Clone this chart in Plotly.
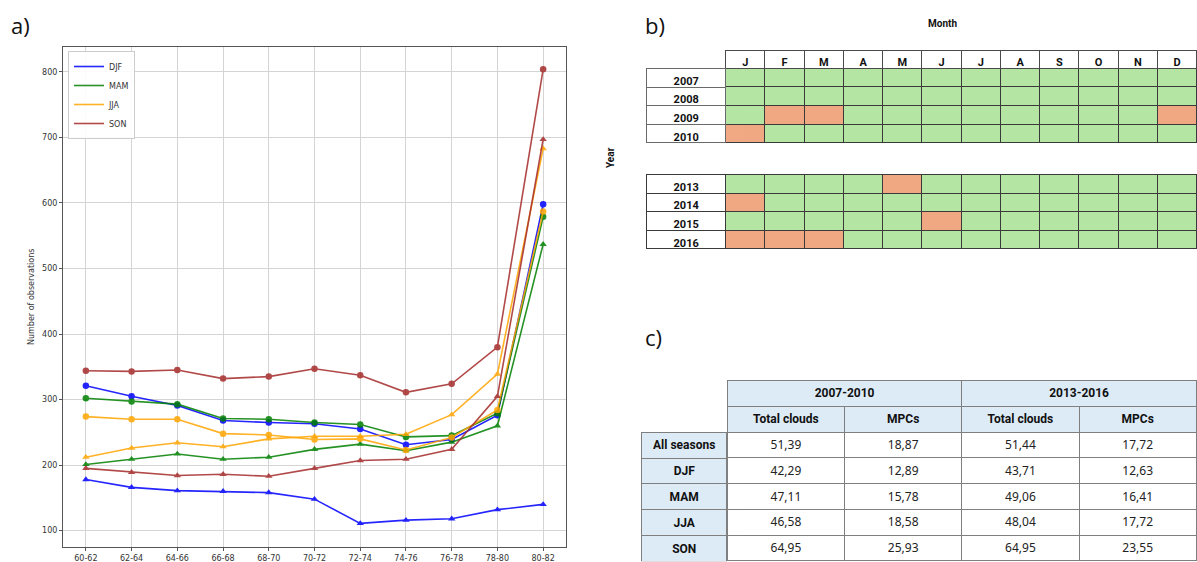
import plotly.graph_objects as go

W, H = 1197, 562

# ---------------- panel a data ----------------
periods = ['60-62', '62-64', '64-66', '66-68', '68-70', '70-72', '72-74', '74-76', '76-78', '78-80', '80-82']
djf_circle = [321, 305, 291, 268, 265, 263, 255, 231, 239, 276, 598]
djf_tri = [178, 166, 161, 160, 158, 148, 111, 116, 118, 132, 140]
mam_circle = [302, 297, 293, 271, 270, 265, 262, 243, 245, 279, 579]
mam_tri = [201, 209, 217, 209, 212, 224, 232, 222, 235, 260, 537]
jja_circle = [274, 270, 270, 248, 246, 239, 240, 223, 242, 284, 587]
jja_tri = [212, 226, 234, 228, 240, 244, 244, 247, 277, 339, 683]
son_circle = [344, 343, 345, 332, 335, 347, 337, 311, 324, 380, 804]
son_tri = [195, 189, 184, 186, 183, 195, 207, 209, 224, 305, 697]
seasons = ['DJF', 'MAM', 'JJA', 'SON']
season_colors = ['#0000FF', '#008000', '#FFA500', '#A52A2A']

# ---------------- panel b data ----------------
months = ['J', 'F', 'M', 'A', 'M', 'J', 'J', 'A', 'S', 'O', 'N', 'D']
years_1 = ['2007', '2008', '2009', '2010']
years_2 = ['2013', '2014', '2015', '2016']
missing_1 = [
    [0, 0, 0, 0, 0, 0, 0, 0, 0, 0, 0, 0],
    [0, 0, 0, 0, 0, 0, 0, 0, 0, 0, 0, 0],
    [0, 1, 1, 0, 0, 0, 0, 0, 0, 0, 0, 1],
    [1, 0, 0, 0, 0, 0, 0, 0, 0, 0, 0, 0],
]
missing_2 = [
    [0, 0, 0, 0, 1, 0, 0, 0, 0, 0, 0, 0],
    [1, 0, 0, 0, 0, 0, 0, 0, 0, 0, 0, 0],
    [0, 0, 0, 0, 0, 1, 0, 0, 0, 0, 0, 0],
    [1, 1, 1, 0, 0, 0, 0, 0, 0, 0, 0, 0],
]

# ---------------- panel c data ----------------
period_labels = ['2007-2010', '2013-2016']
sub_labels = ['Total clouds', 'MPCs', 'Total clouds', 'MPCs']
row_labels = ['All seasons', 'DJF', 'MAM', 'JJA', 'SON']
total_0710 = [51.39, 42.29, 47.11, 46.58, 64.95]
mpc_0710 = [18.87, 12.89, 15.78, 18.58, 25.93]
total_1316 = [51.44, 43.71, 49.06, 48.04, 64.95]
mpc_1316 = [17.72, 12.63, 16.41, 17.72, 23.55]

GREEN = '#B4E5A2'
ORANGE = '#F0A882'
LBLUE = '#DDEBF7'


def px_x(p):
    return p / W


def px_y(p):
    return 1 - p / H


def nb(s):
    # non-breaking spaces keep plotly tables from growing the row height
    return s.replace(' ', '\u00a0')


fig = go.Figure()

# ---- line chart ----
series = [
    (djf_circle, djf_tri),
    (mam_circle, mam_tri),
    (jja_circle, jja_tri),
    (son_circle, son_tri),
]
for (circ, tri), col, name in zip(series, season_colors, seasons):
    fig.add_trace(go.Scatter(x=periods, y=circ, mode='lines+markers', showlegend=False,
                             line=dict(color=col, width=1.6), opacity=0.85,
                             marker=dict(symbol='circle', size=6.5, color=col)))
    fig.add_trace(go.Scatter(x=periods, y=tri, mode='lines+markers', showlegend=False,
                             line=dict(color=col, width=1.6), opacity=0.85,
                             marker=dict(symbol='triangle-up', size=6.5, color=col)))
for col, name in zip(season_colors, seasons):
    fig.add_trace(go.Scatter(x=[None], y=[None], mode='lines', name=name,
                             line=dict(color=col, width=1.6), opacity=0.85))

axis_font = dict(family='DejaVu Sans', size=8, color='#333333')
fig.update_layout(
    xaxis=dict(domain=[px_x(63), px_x(566)], range=[-0.5, 10.5], anchor='y',
               showgrid=True, gridcolor='#d4d4d4', gridwidth=1,
               showline=True, linecolor='#555555', linewidth=1, mirror=True,
               ticks='outside', ticklen=3, tickcolor='#555555', tickfont=axis_font,
               zeroline=False, fixedrange=True),
    yaxis=dict(domain=[px_y(547), px_y(47)], range=[75, 838], anchor='x',
               tickvals=[100, 200, 300, 400, 500, 600, 700, 800],
               showgrid=True, gridcolor='#d4d4d4', gridwidth=1,
               showline=True, linecolor='#555555', linewidth=1, mirror=True,
               ticks='outside', ticklen=3, tickcolor='#555555', tickfont=axis_font,
               zeroline=False, fixedrange=True),
    legend=dict(x=px_x(68), y=px_y(51), xanchor='left', yanchor='top',
                bgcolor='rgba(255,255,255,0.9)', bordercolor='#cccccc', borderwidth=1,
                font=dict(family='DejaVu Sans', size=8, color='#333333'),
                itemwidth=30, tracegroupgap=0),
    plot_bgcolor='white', paper_bgcolor='white',
    width=W, height=H, margin=dict(l=0, r=0, t=0, b=0),
)

# ---- panel b tables ----
def fills(matrix):
    # column-major list of colours
    return [[ORANGE if matrix[r][c] else GREEN for r in range(len(matrix))] for c in range(len(matrix[0]))]


tbl_font_b = dict(family='Roboto', size=11, color='#111111', weight='bold')

f1 = fills(missing_1)
fig.add_trace(go.Table(
    domain=dict(x=[px_x(725.7), 1.0], y=[px_y(146), px_y(50)]),
    columnwidth=[1] * 12,
    header=dict(values=months, fill_color='white', height=18.3,
                line=dict(color='#4a4a4a', width=1), align='center', font=tbl_font_b),
    cells=dict(values=[[''] * 4 for _ in months], fill_color=f1, height=18.6,
               line=dict(color='#3a3a3a', width=1)),
))
fig.add_trace(go.Table(
    domain=dict(x=[px_x(646.7), px_x(725.7)], y=[px_y(146), px_y(68.3)]),
    header=dict(values=[years_1[0]], fill_color='white', height=18.8,
                line=dict(color='#6a6a6a', width=1), align='center', font=tbl_font_b),
    cells=dict(values=[years_1[1:]], fill_color='white', height=18.6,
               line=dict(color='#6a6a6a', width=1), align='center', font=tbl_font_b),
))
f2 = fills(missing_2)
fig.add_trace(go.Table(
    domain=dict(x=[px_x(646.7), 1.0], y=[px_y(252), px_y(174.3)]),
    columnwidth=[79] + [39.3] * 12,
    header=dict(values=[years_2[0]] + [''] * 12,
                fill_color=['white'] + [c[0] for c in f2], height=18.8,
                line=dict(color='#3a3a3a', width=1), align='center', font=tbl_font_b),
    cells=dict(values=[years_2[1:]] + [[''] * 3 for _ in months],
               fill_color=[['white'] * 3] + [c[1:] for c in f2], height=18.6,
               line=dict(color='#3a3a3a', width=1), align='center', font=tbl_font_b),
))

# ---- panel c tables ----
fmt = lambda v: f'{v:.2f}'.replace('.', ',')
hdr_font_c = dict(family='Roboto', size=12, color='#111111', weight='bold')
cell_font_c = dict(family='Noto Sans', size=12, color='#222222')
fig.add_trace(go.Table(
    domain=dict(x=[px_x(727.3), 1.0], y=[px_y(407), px_y(380)]),
    header=dict(values=period_labels, fill_color=LBLUE, height=26,
                line=dict(color='#7f7f7f', width=1), align='center', font=hdr_font_c),
    cells=dict(values=[[], []], height=1),
))
fig.add_trace(go.Table(
    domain=dict(x=[px_x(727.3), 1.0], y=[0, px_y(406)]),
    header=dict(values=[nb(s) for s in sub_labels], fill_color=LBLUE, height=26,
                line=dict(color='#7f7f7f', width=1), align='center', font=hdr_font_c),
    cells=dict(values=[[fmt(v) for v in total_0710], [fmt(v) for v in mpc_0710],
                       [fmt(v) for v in total_1316], [fmt(v) for v in mpc_1316]],
               fill_color='white', height=25.8,
               line=dict(color='#7f7f7f', width=1), align='center', font=cell_font_c),
))
fig.add_trace(go.Table(
    domain=dict(x=[px_x(641.7), px_x(727.3)], y=[0, px_y(432.3)]),
    header=dict(values=[nb(row_labels[0])], fill_color=LBLUE, height=25.8,
                line=dict(color='#7f7f7f', width=1), align='center', font=hdr_font_c),
    cells=dict(values=[row_labels[1:]], fill_color=LBLUE, height=25.8,
               line=dict(color='#7f7f7f', width=1), align='center', font=hdr_font_c),
))

# ---- annotations ----
ann = []
for txt, x, y in [('a)', 20, 25), ('b)', 655, 25), ('c)', 653, 337)]:
    ann.append(dict(text=txt, x=px_x(x), y=px_y(y), xref='paper', yref='paper',
                    xanchor='center', yanchor='middle', showarrow=False,
                    font=dict(family='Open Sans', size=22, color='#111111')))
ann.append(dict(text='<b>Month</b>', x=px_x(942), y=px_y(23), xref='paper', yref='paper',
                showarrow=False, xanchor='center', yanchor='middle',
                font=dict(family='Roboto', size=10, color='#111111')))
ann.append(dict(text='<b>Year</b>', x=px_x(610), y=px_y(158), xref='paper', yref='paper',
                showarrow=False, xanchor='center', yanchor='middle', textangle=-90,
                font=dict(family='Roboto', size=10, color='#111111')))
ann.append(dict(text='Number of observations', x=px_x(31), y=px_y(297), xref='paper', yref='paper',
                showarrow=False, xanchor='center', yanchor='middle', textangle=-90,
                font=dict(family='DejaVu Sans', size=8, color='#333333')))
fig.update_layout(annotations=ann)

fig.write_html('out.html')
